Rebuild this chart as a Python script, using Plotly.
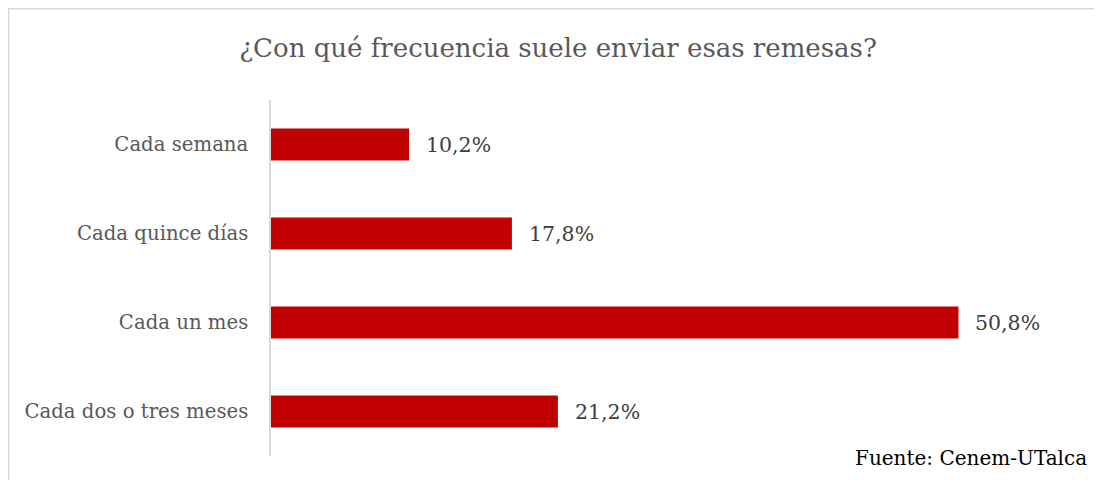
import plotly.graph_objects as go

categories = ["Cada semana", "Cada quince días", "Cada un mes", "Cada dos o tres meses"]
values = [10.2, 17.8, 50.8, 21.2]
title_text = "¿Con qué frecuencia suele enviar esas remesas?"
source_text = "Fuente: Cenem-UTalca"

# page body has an 8px margin, so the figure is drawn 8px smaller and offset
W, H = 1094, 472
L, R, T, B = 263, 19, 92, 24
pw, ph = W - L - R, H - T - B

def px_x(x):
    return (x - L) / pw

def px_y(y):
    return (H - B - y) / ph

FONT = "DejaVu Serif"
BAR = "#C00000"

fig = go.Figure()
fig.add_trace(go.Bar(
    x=values, y=categories, orientation="h",
    marker=dict(color=BAR, line=dict(width=0)),
    width=0.36, hoverinfo="skip",
))

annotations = []
for c, v in zip(categories, values):
    annotations.append(dict(
        x=v, y=c, xref="x", yref="y",
        text=f"{v:.1f}%".replace(".", ","),
        showarrow=False, xanchor="left", yanchor="middle", xshift=15,
        font=dict(family=FONT, size=20.5, color="#404040"),
    ))
annotations.append(dict(
    x=px_x(1081), y=px_y(450), xref="paper", yref="paper",
    text=source_text, showarrow=False, xanchor="right", yanchor="middle",
    font=dict(family=FONT, size=20, color="#000000"),
))

shapes = [
    dict(type="line", xref="paper", yref="paper",
         x0=px_x(0), x1=px_x(W), y0=px_y(0.75), y1=px_y(0.75),
         line=dict(color="#D9D9D9", width=1.5)),
    dict(type="line", xref="paper", yref="paper",
         x0=px_x(0.75), x1=px_x(0.75), y0=px_y(0), y1=px_y(H),
         line=dict(color="#D9D9D9", width=1.5)),
]

fig.update_layout(
    width=W, height=H,
    margin=dict(l=L, r=R, t=T, b=B, pad=0),
    paper_bgcolor="white", plot_bgcolor="white",
    showlegend=False,
    title=dict(text=title_text, x=550 / W, xanchor="center",
               y=1 - 40 / H, yanchor="middle",
               font=dict(family=FONT, size=26, color="#595959")),
    xaxis=dict(range=[0, 60], visible=False, fixedrange=True),
    yaxis=dict(categoryorder="array", categoryarray=categories,
               autorange="reversed", showgrid=False, zeroline=False,
               showline=True, linecolor="#D9D9D9", linewidth=1.5,
               ticks="", ticklabelstandoff=17, fixedrange=True,
               tickfont=dict(family=FONT, size=19.7, color="#595959")),
    annotations=annotations, shapes=shapes,
)

fig.write_html("out.html", config={"displayModeBar": False})
